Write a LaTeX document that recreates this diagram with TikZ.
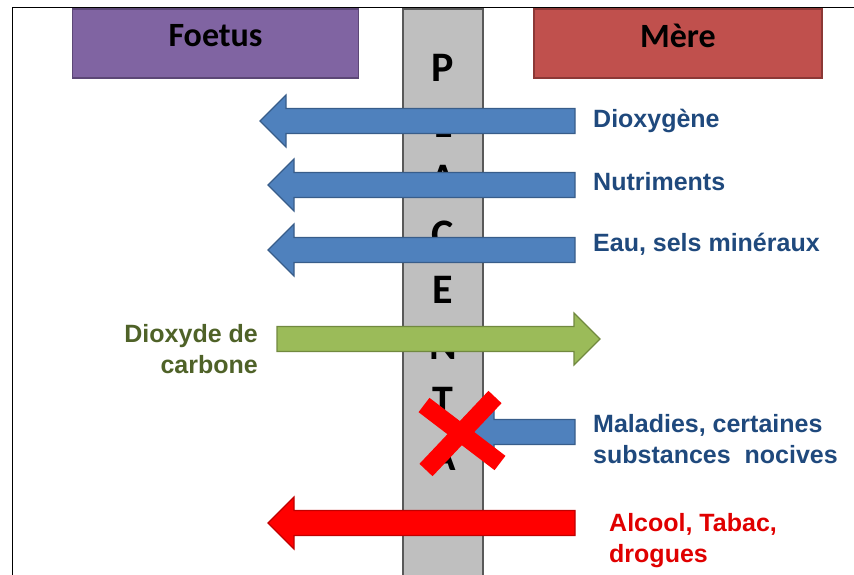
\documentclass[tikz,border=0pt]{standalone}
\usepackage{fontspec}
\setmainfont{Liberation Sans}
\newfontfamily\calibri{Carlito}
\definecolor{bleuF}{HTML}{4F81BD}
\definecolor{bleuB}{HTML}{385D8A}
\definecolor{vertF}{HTML}{9BBB59}
\definecolor{vertB}{HTML}{71893F}
\definecolor{rougeF}{HTML}{FF0000}
\definecolor{rougeB}{HTML}{C00000}
\definecolor{foetusF}{HTML}{8064A2}
\definecolor{foetusB}{HTML}{5C4776}
\definecolor{mereF}{HTML}{C0504D}
\definecolor{mereB}{HTML}{8C3836}
\definecolor{gris}{HTML}{BFBFBF}
\definecolor{grisB}{HTML}{595959}
\definecolor{texteB}{HTML}{1F497D}
\definecolor{texteV}{HTML}{4F6228}
\definecolor{texteR}{HTML}{E00000}
% fleche vers la gauche : queue, pointe, hauteur, style
\newcommand{\flecheG}[4]{\filldraw[#4] (#1,#3-12.5) -- (#2+26,#3-12.5) -- (#2+26,#3-26) -- (#2,#3) -- (#2+26,#3+26) -- (#2+26,#3+12.5) -- (#1,#3+12.5) -- cycle;}
% fleche vers la droite
\newcommand{\flecheD}[4]{\filldraw[#4] (#1,#3-12.5) -- (#2-26,#3-12.5) -- (#2-26,#3-26) -- (#2,#3) -- (#2-26,#3+26) -- (#2-26,#3+12.5) -- (#1,#3+12.5) -- cycle;}
\begin{document}
\begin{tikzpicture}[x=1pt,y=-1pt,
    boite/.style={draw,line width=1.5pt,minimum height=69pt,inner sep=0},
    titre/.style={font=\calibri\bfseries\fontsize{34}{40}\selectfont,inner sep=0},
    lettre/.style={font=\calibri\bfseries\fontsize{42}{46}\selectfont,inner sep=0},
    txt/.style={font=\bfseries\fontsize{25}{31}\selectfont,inner sep=0}]
  \useasboundingbox (0,0) rectangle (854,575);
  \draw[line width=1pt] (854,8) -- (12,8) -- (12,575);
  % placenta
  \draw[fill=gris,draw=grisB,line width=1.2pt] (403,9) rectangle (483,576);
  \foreach \l [count=\i from 0] in {P,L,A,C,E,N,T,A}
    \node[lettre] (l\i) at (443,68+55.5*\i) {\l};
  % les deux cotes
  \node[boite,fill=foetusF,draw=foetusB,minimum width=286pt] (foetus) at (215.5,43.5) {};
  \node[titre] (tfoetus) at (215.5,36) {Foetus};
  \node[boite,fill=mereF,draw=mereB,minimum width=288pt] (mere) at (678,43.5) {};
  \node[titre] (tmere) at (678,36) {Mère};
  % echanges
  \flecheG{575}{260}{121}{fill=bleuF,draw=bleuB,line width=1.2pt}
  \flecheG{575}{268}{185}{fill=bleuF,draw=bleuB,line width=1.2pt}
  \flecheG{575}{268}{250}{fill=bleuF,draw=bleuB,line width=1.2pt}
  \flecheD{277}{600}{339}{fill=vertF,draw=vertB,line width=1.2pt}
  \flecheG{575}{468}{432}{fill=bleuF,draw=bleuB,line width=1.2pt}
  \flecheG{575}{268}{523}{fill=rougeF,draw=rougeB,line width=1.2pt}
  % barrage
  \draw[rougeF,line width=18pt] (424,405) -- (500,463);
  \draw[rougeF,line width=18pt] (495,397) -- (426,470);
  % legendes
  \node[txt,text=texteB,anchor=base west] (o2) at (593,128) {Dioxygène};
  \node[txt,text=texteB,anchor=base west] (nutri) at (593,190) {Nutriments};
  \node[txt,text=texteB,anchor=base west] (eau) at (593,251) {Eau, sels minéraux};
  \node[txt,text=texteV,anchor=base east,align=right] (co2) at (258,373) {Dioxyde de\\carbone};
  \node[txt,text=texteB,anchor=base west,align=left] (malad) at (593,463) {Maladies, certaines\\substances\ \ nocives};
  \node[txt,text=texteR,anchor=base west,align=left] (alcool) at (609,562) {Alcool, Tabac,\\drogues};
\end{tikzpicture}
\end{document}
